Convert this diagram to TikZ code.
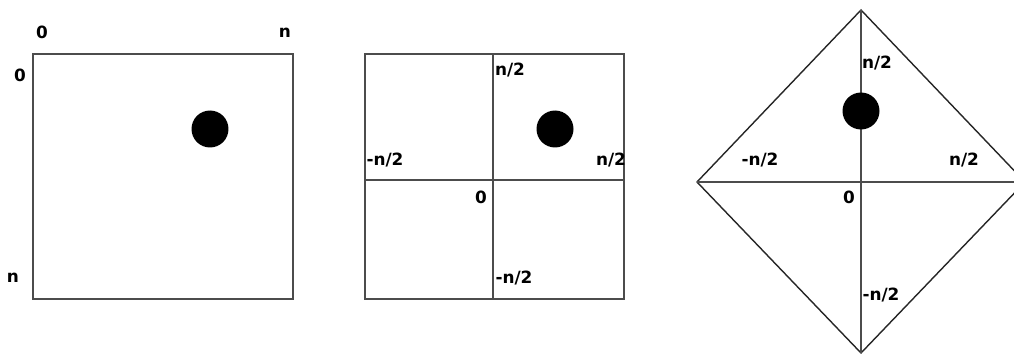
\documentclass[tikz,border=0pt]{standalone}
\usepackage{fontspec}
\setsansfont{DejaVu Sans}
\usetikzlibrary{positioning}
\tikzset{
  lbl/.style={font=\sffamily\bfseries\fontsize{9.6}{11}\selectfont, inner sep=0pt},
  dot/.style={circle, fill=black, inner sep=0pt, minimum size=0.74cm},
  frame/.style={draw=black!70, line width=0.8pt},
  rhomb/.style={draw=black!85, line width=0.8pt},
}
\begin{document}
\begin{tikzpicture}[x=0.02cm, y=-0.02cm]
                \clip (0,0) rectangle (1014,354);
                % Cuadrado 0..n
                \coordinate (SA) at (33,54);
                \coordinate (SB) at (293,299);
                \draw[frame] (SA) rectangle (SB);
                \node[dot] (dotA) at (210,129) {};
                \node[lbl] (xzero) at (42,32) {0};
                \node[lbl] (xn) at (285,33) {n};
                \node[lbl] (yzero) at (20,75) {0};
                \node[lbl] (yn) at (13,278) {n};

                % Cuadrado centrado
                \coordinate (QA) at (365,54);
                \coordinate (QB) at (624,299);
                \coordinate (QT) at (493,54);
                \coordinate (QD) at (493,299);
                \coordinate (QL) at (365,180);
                \coordinate (QR) at (624,180);
                \draw[frame] (QA) rectangle (QB);
                \draw[frame] (QT) -- (QD);
                \draw[frame] (QL) -- (QR);
                \node[dot] (dotB) at (555,129) {};
                \node[lbl] (qtop) at (510,70) {n/2};
                \node[lbl] (qleft) at (385,160) {-n/2};
                \node[lbl] (qright) at (611,160) {n/2};
                \node[lbl] (qzero) at (481,197) {0};
                \node[lbl] (qbot) at (514,278) {-n/2};

                % Rombo
                \coordinate (RT) at (861,10);
                \coordinate (RL) at (697,182);
                \coordinate (RR) at (1025,182);
                \coordinate (RB) at (861,353);
                \draw[rhomb] (RT) -- (RR) -- (RB) -- (RL) -- cycle;
                \draw[frame] (RT) -- (RB);
                \draw[frame] (RL) -- (RR);
                \node[dot] (dotC) at (861,111) {};
                \node[lbl] (rtop) at (877,63) {n/2};
                \node[lbl] (rleft) at (760,160) {-n/2};
                \node[lbl] (rright) at (964,160) {n/2};
                \node[lbl] (rzero) at (849,197) {0};
                \node[lbl] (rbot) at (881,295) {-n/2};
\end{tikzpicture}
\end{document}
